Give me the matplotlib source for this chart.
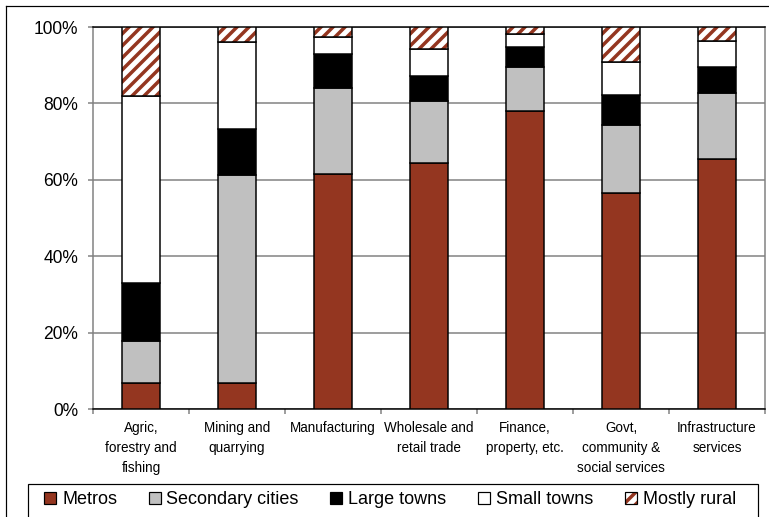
import matplotlib
matplotlib.use("Agg")
import matplotlib.pyplot as plt
from matplotlib.patches import Patch, Rectangle
from matplotlib.lines import Line2D
from matplotlib.legend_handler import HandlerTuple
import numpy as np

# Share of employment in each sector by settlement type (%)
sectors = ["Agric,\nforestry and\nfishing", "Mining and\nquarrying", "Manufacturing",
           "Wholesale and\nretail trade", "Finance,\nproperty, etc.",
           "Govt,\ncommunity &\nsocial services", "Infrastructure\nservices"]
metros = [6.7, 6.7, 61.5, 64.5, 78.0, 56.5, 65.5]
secondary = [11.2, 54.6, 22.6, 16.0, 11.5, 17.8, 17.2]
large_towns = [15.0, 12.0, 8.9, 6.7, 5.3, 7.9, 6.7]
small_towns = [49.1, 22.7, 4.3, 7.0, 3.4, 8.7, 7.0]
rural = [18.0, 4.0, 2.7, 5.8, 1.8, 9.1, 3.6]

brown = "#943620"
plt.rcParams["font.family"] = ["Liberation Sans", "DejaVu Sans"]
plt.rcParams["hatch.linewidth"] = 3.5

W, H = 769, 517
fig = plt.figure(figsize=(W / 72, H / 72), dpi=72)
ax = fig.add_axes([93 / W, 1 - 409 / H, 672 / W, 382 / H])

x = np.arange(len(sectors))
bw = 0.4
ec = dict(edgecolor="black", linewidth=1.5)
bottom = np.zeros(len(sectors))
ax.bar(x, metros, bw, bottom=bottom, color=brown, **ec, zorder=3)
bottom += metros
ax.bar(x, secondary, bw, bottom=bottom, color="#c0c0c0", **ec, zorder=3)
bottom += secondary
ax.bar(x, large_towns, bw, bottom=bottom, color="black", **ec, zorder=3)
bottom += large_towns
ax.bar(x, small_towns, bw, bottom=bottom, color="white", **ec, zorder=3)
bottom += small_towns
# hatched top segment: stripes first, then black outline on top
ax.bar(x, rural, bw, bottom=bottom, color="white", edgecolor=brown, hatch="//",
       linewidth=0, zorder=3)
ax.bar(x, rural, bw, bottom=bottom, fill=False, **ec, zorder=4)

ax.set_xlim(-0.5, len(sectors) - 0.5)
ax.set_ylim(0, 100)
ax.set_yticks(range(0, 101, 20))
ax.set_yticklabels([f"{v}%" for v in range(0, 101, 20)], fontsize=17.5)
ax.yaxis.grid(True, color="#808080", linewidth=1.5, zorder=0)
ax.tick_params(axis="y", length=5, width=1.5, color="#808080", pad=10)

ax.set_xticks(x)
ax.set_xticklabels(sectors, fontsize=13.5, linespacing=1.55)
ax.set_xticks(np.arange(-0.5, len(sectors)), minor=True)
ax.tick_params(axis="x", which="major", length=0, pad=12)
ax.tick_params(axis="x", which="minor", length=5, width=1.5, color="#808080")

for side in ["left", "right", "bottom"]:
    ax.spines[side].set_color("#808080")
    ax.spines[side].set_linewidth(1.5)
ax.spines["top"].set_color("black")
ax.spines["top"].set_linewidth(1.5)
ax.spines["bottom"].set_color("black")

# outer chart frame
fig.add_artist(Line2D([6 / W, 1], [1 - 6 / H] * 2, color="black", lw=1.2,
                      transform=fig.transFigure))
fig.add_artist(Line2D([6 / W] * 2, [0, 1 - 6 / H], color="black", lw=1.2,
                      transform=fig.transFigure))

# legend box
fig.add_artist(Rectangle((28 / W, -0.05), 730 / W, 0.05 + 1 - 484 / H,
                         transform=fig.transFigure, fill=False,
                         edgecolor="black", lw=1.2))
handles = [
    Patch(facecolor=brown, edgecolor="black", lw=1.2),
    Patch(facecolor="#c0c0c0", edgecolor="black", lw=1.2),
    Patch(facecolor="black", edgecolor="black", lw=1.2),
    Patch(facecolor="white", edgecolor="black", lw=1.2),
    (Patch(facecolor="white", edgecolor=brown, hatch="//", lw=0),
     Patch(fill=False, edgecolor="black", lw=1.2)),
]
labels = ["Metros", "Secondary cities", "Large towns", "Small towns", "Mostly rural"]
fig.legend(handles, labels, loc="center left",
           bbox_to_anchor=(44 / W, 1 - 500 / H), bbox_transform=fig.transFigure,
           ncol=5, frameon=False, fontsize=18, borderpad=0, borderaxespad=0,
           handlelength=0.67, handleheight=0.67, handletextpad=0.33,
           columnspacing=1.75, handler_map={tuple: HandlerTuple(ndivide=1)})

fig.savefig("out.png", dpi=72)
